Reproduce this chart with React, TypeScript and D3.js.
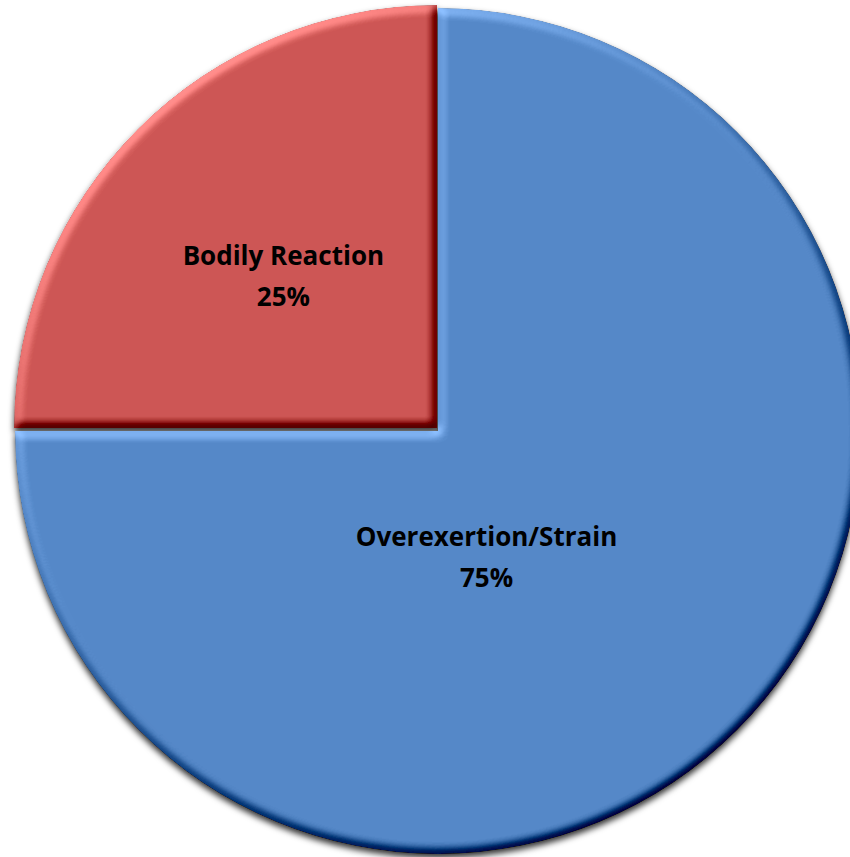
import React from "react";
import * as d3 from "d3";

const categories = ["Overexertion/Strain", "Bodily Reaction"];
const values = [75, 25];
const percentLabels = ["75%", "25%"];
const colors = ["#5588C8", "#CD5654"];
// label placement: fraction of radius, and angular shift (deg) from the slice mid-angle
const labelRadiusFrac = [0.32, 0.517];
const labelAngleShift = [24, 0];

const W = 850;
const H = 857;
const cx = 438;
const cy = 431;
const R = 423;

export default function App() {
  const pie = d3
    .pie<number>()
    .sort(null)
    .startAngle(0)
    .endAngle(2 * Math.PI)
    .value((d) => d);
  const arcs = pie(values);
  const arc = d3.arc<d3.PieArcDatum<number>>().innerRadius(0).outerRadius(R);
  const offsets = [
    [0, 0],
    [-1, -3],
  ];

  return (
    <svg
      width={W}
      height={H}
      style={{ position: "absolute", left: 0, top: 0, background: "#fff" }}
    >
      <defs>
        <filter
          id="bevel"
          x="-10%"
          y="-10%"
          width="120%"
          height="120%"
          colorInterpolationFilters="sRGB"
        >
          <feGaussianBlur in="SourceAlpha" stdDeviation="5" result="blur" />
          <feDiffuseLighting
            in="blur"
            surfaceScale="6"
            diffuseConstant="1"
            lightingColor="#ffffff"
            result="diff"
          >
            <feDistantLight azimuth="235" elevation="45" />
          </feDiffuseLighting>
          <feComposite
            in="SourceGraphic"
            in2="diff"
            operator="arithmetic"
            k1="0"
            k2="1"
            k3="0.75"
            k4="-0.53"
            result="lit"
          />
          <feComposite in="lit" in2="SourceAlpha" operator="in" />
        </filter>
        <filter id="shadow" x="-10%" y="-10%" width="120%" height="120%">
          <feDropShadow dx="0" dy="4" stdDeviation="3" floodColor="#000" floodOpacity="0.8" />
        </filter>
      </defs>
      <g filter="url(#shadow)">
        {arcs.map((a, i) => (
          <path
            key={categories[i]}
            d={arc(a) || ""}
            fill={colors[i]}
            filter="url(#bevel)"
            transform={`translate(${cx + offsets[i][0]},${cy + offsets[i][1]})`}
          />
        ))}
      </g>
      {arcs.map((a, i) => {
        const mid = (a.startAngle + a.endAngle) / 2 + (labelAngleShift[i] * Math.PI) / 180;
        const r = R * labelRadiusFrac[i];
        const lx = cx + r * Math.sin(mid);
        const ly = cy - r * Math.cos(mid);
        return (
          <text
            key={"t" + i}
            textAnchor="middle"
            fontFamily="'Open Sans', Lato, sans-serif"
            fontWeight="bold"
            fontSize={26}
            fill="#000"
          >
            <tspan x={lx} y={ly - 11}>
              {categories[i]}
            </tspan>
            <tspan x={lx} y={ly + 30}>
              {percentLabels[i]}
            </tspan>
          </text>
        );
      })}
    </svg>
  );
}
